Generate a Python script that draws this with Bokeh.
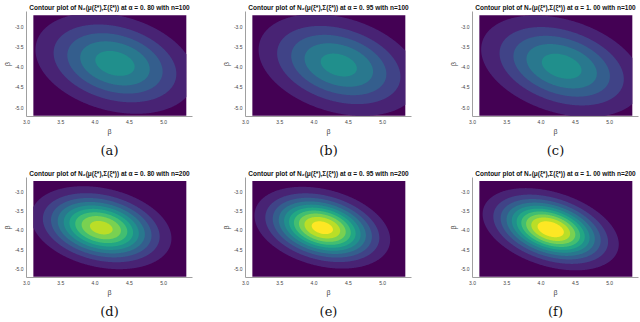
import numpy as np
from bokeh.plotting import figure
from bokeh.layouts import row, column, Spacer
from bokeh.models import FixedTicker, Title, Range1d, PrintfTickFormatter
from bokeh.palettes import Viridis11
from bokeh.embed import file_html
from bokeh.resources import INLINE

# ---- data ----
alpha_labels = ["0. 80", "0. 95", "1. 00", "0. 80", "0. 95", "1. 00"]
n_values = [100, 100, 100, 200, 200, 200]
captions = ["(a)", "(b)", "(c)", "(d)", "(e)", "(f)"]

mu_x = [4.29, 4.36, 4.30, 4.09, 4.12, 4.14]
mu_y = [-3.91, -3.95, -3.98, -3.93, -3.93, -3.97]
s_xx = [0.392, 0.403, 0.402, 0.232, 0.2073, 0.206]
s_yy = [0.451, 0.464, 0.458, 0.256, 0.2378, 0.237]
s_xy = [-0.1136, -0.13, -0.1416, -0.063, -0.0656, -0.081]

levels = [0.0, 0.0708, 0.1416, 0.2124, 0.2832, 0.354, 0.4248,
          0.4956, 0.5664, 0.6372, 0.708, 0.7788]

grid_x = [3.1, 5.33]
grid_y = [-5.2, -2.72]
x_ticks = [3.0, 3.5, 4.0, 4.5, 5.0]
y_ticks = [-5.0, -4.5, -4.0, -3.5, -3.0]
x_lim = [3.0, 5.42]
y_lim = [-5.22, -2.63]

xs = np.linspace(grid_x[0], grid_x[1], 220)
ys = np.linspace(grid_y[0], grid_y[1], 220)
X, Y = np.meshgrid(xs, ys)


def density(i):
    sxx, syy, sxy = s_xx[i], s_yy[i], s_xy[i]
    det = sxx * syy - sxy * sxy
    dx = X - mu_x[i]
    dy = Y - mu_y[i]
    q = (syy * dx * dx - 2 * sxy * dx * dy + sxx * dy * dy) / det
    return np.exp(-0.5 * q) / (2 * np.pi * np.sqrt(det))


widths = [219, 227, 193]
right_b = [27, 35, 1]
row_h = [160, 155]

figs = []
for i in range(6):
    c = i % 3
    rw = i // 3
    title = "Contour plot of N\u2082(\u03bc(\u03be*),\u03a3(\u03be*)) at \u03b1 = %s with n=%d" % (alpha_labels[i], n_values[i])
    p = figure(width=widths[c], height=row_h[rw], output_backend="svg", toolbar_location=None,
               x_range=Range1d(x_lim[0], x_lim[1]), y_range=Range1d(y_lim[0], y_lim[1]),
               min_border_left=0, min_border_right=right_b[c],
               min_border_top=0, min_border_bottom=0)
    p.title.text = title
    p.title.align = "center"
    p.title.text_font = "Liberation Sans"
    p.title.text_font_size = "6.5px"
    p.title.text_font_style = "bold"
    p.title.text_color = "#111111"
    p.title.standoff = 2

    Z = density(i)
    ceiling = float(Z.max()) * 2 + 1
    # stacked (overlapping) fills so no white seams appear between bands
    for k in range(len(levels) - 1):
        if Z.max() <= levels[k]:
            break
        r = p.contour(x=xs, y=ys, z=Z, levels=[levels[k], ceiling],
                      fill_color=Viridis11[k], line_color=None)
        r.line_renderer.visible = False

    p.xaxis.ticker = FixedTicker(ticks=x_ticks)
    p.yaxis.ticker = FixedTicker(ticks=y_ticks)
    p.axis.formatter = PrintfTickFormatter(format="%.1f")
    p.axis.major_tick_line_color = None
    p.axis.minor_tick_line_color = None
    p.axis.major_tick_out = 0
    p.axis.major_tick_in = 0
    p.axis.axis_line_color = "#a0a0a0"
    p.axis.major_label_text_font_size = "5px"
    p.axis.major_label_text_color = "#444444"
    p.axis.major_label_standoff = 3
    p.axis.axis_label = "\u03b2"
    p.axis.axis_label_text_font_size = "7px"
    p.axis.axis_label_text_font_style = "normal"
    p.axis.axis_label_text_color = "#444444"
    p.axis.axis_label_standoff = 1
    p.grid.visible = False
    p.outline_line_color = None

    p.add_layout(Title(text=captions[i], align="center", text_font="DejaVu Serif",
                       text_font_size="13px", text_font_style="normal",
                       vertical_align="bottom",
                       text_color="#111111", standoff=6, offset=0), "below")
    figs.append(p)

layout = column(row(figs[0], figs[1], figs[2]), Spacer(height=6),
                row(figs[3], figs[4], figs[5]))
open("out.html", "w").write(file_html(layout, INLINE))
